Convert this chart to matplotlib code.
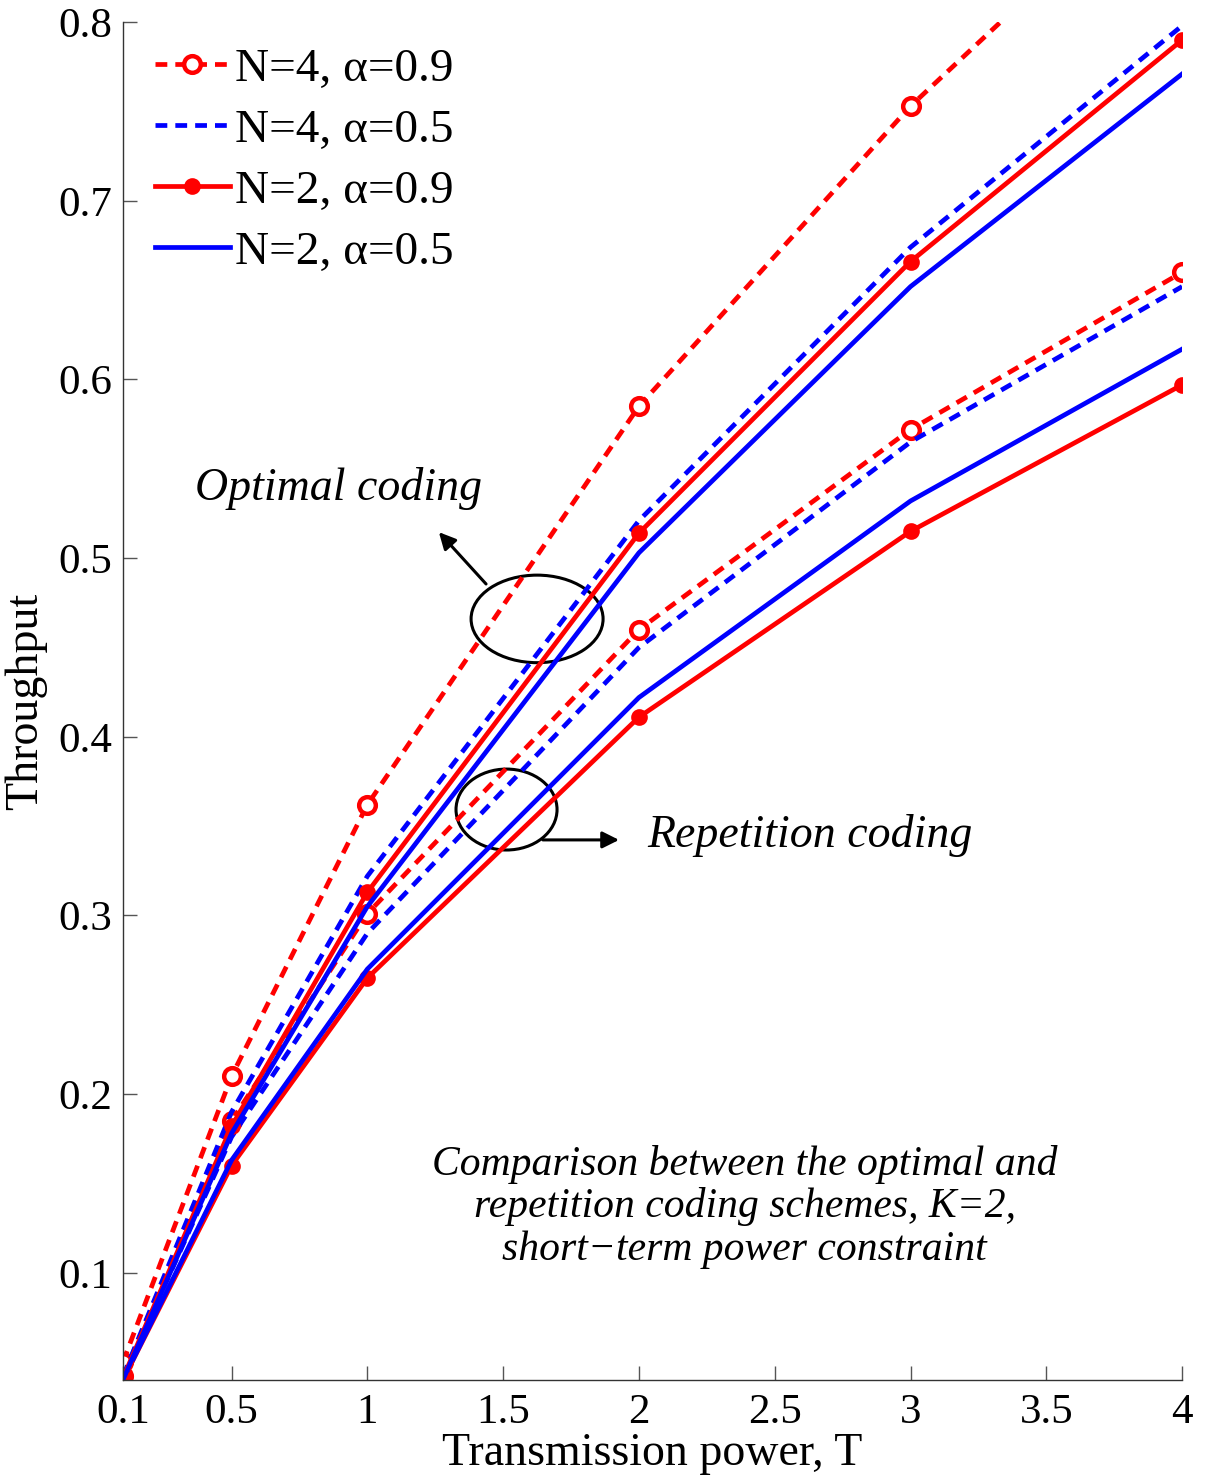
import numpy as np
import matplotlib
matplotlib.use("Agg")
import matplotlib.pyplot as plt
from matplotlib.patches import Ellipse

plt.rcParams['font.family'] = ['Liberation Serif', 'DejaVu Serif']
plt.rcParams['mathtext.fontset'] = 'stix'

# transmission power values
T = [0.1, 0.5, 1, 2, 3, 4]

# optimal coding
opt_n4_a09 = [0.050, 0.210, 0.362, 0.585, 0.753, 0.895]
opt_n4_a05 = [0.042, 0.190, 0.322, 0.521, 0.674, 0.798]
opt_n2_a09 = [0.041, 0.182, 0.313, 0.514, 0.666, 0.790]
opt_n2_a05 = [0.040, 0.178, 0.305, 0.503, 0.652, 0.771]

# repetition coding
rep_n4_a09 = [0.042, 0.185, 0.301, 0.460, 0.572, 0.660]
rep_n4_a05 = [0.041, 0.176, 0.290, 0.450, 0.565, 0.652]
rep_n2_a09 = [0.040, 0.160, 0.265, 0.411, 0.515, 0.597]
rep_n2_a05 = [0.040, 0.163, 0.270, 0.422, 0.532, 0.617]

labels = ['N=4, α=0.9', 'N=4, α=0.5', 'N=2, α=0.9', 'N=2, α=0.5']
xticks = [0.1, 0.5, 1, 1.5, 2, 2.5, 3, 3.5, 4]
xticklabels = ['0.1', '0.5', '1', '1.5', '2', '2.5', '3', '3.5', '4']
yticks = [0.1, 0.2, 0.3, 0.4, 0.5, 0.6, 0.7, 0.8]

fig = plt.figure(figsize=(12.05, 14.78), dpi=100)
ax = fig.add_axes([0.102, 0.0663, 0.879, 0.9187])

lw = 3.4
dash = (0, (2.5, 1.7))
st_red_dash = dict(color='red', lw=lw, ls=dash, marker='o', ms=12, mew=3.2, mfc='white', mec='red')
st_blue_dash = dict(color='blue', lw=lw, ls=dash)
st_red_solid = dict(color='red', lw=lw, ls='-', marker='o', ms=10, mew=2, mfc='red', mec='red')
st_blue_solid = dict(color='blue', lw=lw, ls='-')

# repetition coding curves
ax.plot(T, rep_n4_a09, **st_red_dash)
ax.plot(T, rep_n4_a05, **st_blue_dash)
ax.plot(T, rep_n2_a09, **st_red_solid)
ax.plot(T, rep_n2_a05, **st_blue_solid)

# optimal coding curves (these go in the legend)
h1, = ax.plot(T, opt_n4_a09, **st_red_dash)
h2, = ax.plot(T, opt_n4_a05, **st_blue_dash)
h3, = ax.plot(T, opt_n2_a09, **st_red_solid)
h4, = ax.plot(T, opt_n2_a05, **st_blue_solid)

ax.set_xlim(0.1, 4)
ax.set_ylim(0.04, 0.8)
ax.set_xticks(xticks)
ax.set_xticklabels(xticklabels)
ax.set_yticks(yticks)
ax.set_yticklabels(['%.1f' % v for v in yticks])
ax.tick_params(direction='in', length=10, width=1, labelsize=31, color='#555555')
ax.tick_params(axis='x', pad=10)
ax.tick_params(axis='y', pad=8)

ax.spines['top'].set_visible(False)
ax.spines['right'].set_visible(False)
for s in ['left', 'bottom']:
    ax.spines[s].set_linewidth(1)
    ax.spines[s].set_color('#333333')

ax.set_xlabel('Transmission power, T', fontsize=33, labelpad=0)
ax.set_ylabel('Throughput', fontsize=33, labelpad=8)

leg = ax.legend([h1, h2, h3, h4], labels, loc='upper left', frameon=False,
                fontsize=34, handlelength=1.6, handletextpad=0.1,
                labelspacing=0.38, borderaxespad=0.0, bbox_to_anchor=(0.012, 0.995))

# ellipses marking the two groups of curves
ax.add_patch(Ellipse((1.625, 0.466), 0.486, 0.049, fill=False, ec='black', lw=2.2))
ax.add_patch(Ellipse((1.5125, 0.3593), 0.372, 0.0453, fill=False, ec='black', lw=2.2))

ax.annotate('', xy=(1.2565, 0.5157), xytext=(1.444, 0.4844),
            arrowprops=dict(arrowstyle='-|>', color='black', lw=2.2, mutation_scale=25))
ax.annotate('', xy=(1.937, 0.3423), xytext=(1.636, 0.3423),
            arrowprops=dict(arrowstyle='-|>', color='black', lw=2.2, mutation_scale=25))

ax.text(0.365, 0.539, 'Optimal coding', fontsize=33, style='italic', va='center', ha='left')
ax.text(2.03, 0.345, 'Repetition coding', fontsize=33, style='italic', va='center', ha='left')

ax.text(2.39, 0.137, 'Comparison between the optimal and\nrepetition coding schemes, K=2,\nshort\u2212term power constraint',
        fontsize=30, style='italic', va='center', ha='center', linespacing=1.12)

fig.savefig('out.png', dpi=100)
